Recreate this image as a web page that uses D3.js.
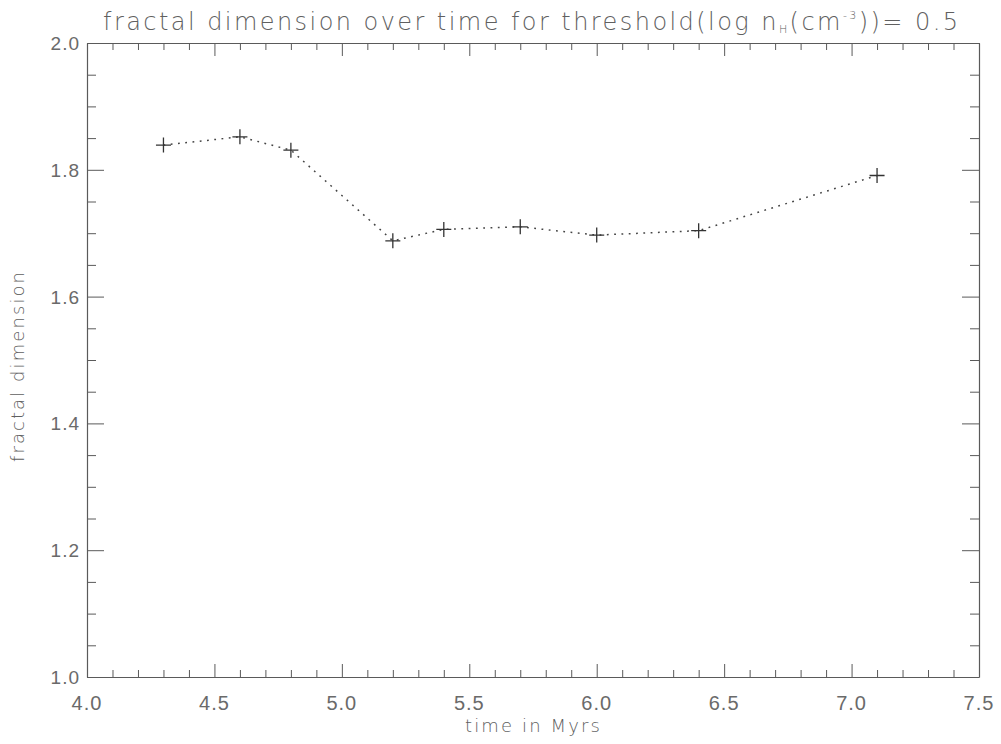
<!DOCTYPE html>
<html>
<head>
<meta charset="utf-8">
<script src="https://cdn.jsdelivr.net/npm/d3@7"></script>
<style>
  html, body { margin: 0; padding: 0; background: #fff; }
  svg { display: block; }
  text { font-family: "Liberation Sans", "DejaVu Sans", sans-serif; fill: #6a6a6a; }
  text.wide { font-family: "DejaVu Sans", sans-serif; font-weight: 200; fill: #606060; }
</style>
</head>
<body>
<svg id="chart" width="1001" height="744"></svg>
<script>
// Fractal dimension measured at each snapshot time (Myr)
const times = [4.3, 4.6, 4.8, 5.2, 5.4, 5.7, 6.0, 6.4, 7.1];
const fractalDim = [1.839, 1.852, 1.831, 1.688, 1.706, 1.710, 1.697, 1.704, 1.791];

const xTicks = [4.0, 4.5, 5.0, 5.5, 6.0, 6.5, 7.0, 7.5];
const yTicks = [1.0, 1.2, 1.4, 1.6, 1.8, 2.0];

const plotLeft = 87, plotRight = 979, plotTop = 43, plotBottom = 677;

const svg = d3.select("#chart");

const x = d3.scaleLinear().domain([4.0, 7.5]).range([plotLeft, plotRight]);
const y = d3.scaleLinear().domain([1.0, 2.0]).range([plotBottom, plotTop]);

const axisColor = "#5a5a5a";

// Spread a text's glyphs so that its total advance equals the given width
function spreadTo(sel, width) {
  const node = sel.node();
  const n = node.textContent.length;
  const w = node.getComputedTextLength();
  sel.attr("letter-spacing", (width - w) / Math.max(1, n - 1));
}

// Minor ticks every 0.1 on x, 0.05 on y; major ticks at labelled values
const xMinor = d3.range(0, 36).map(i => 4.0 + i * 0.1);
const yMinor = d3.range(0, 21).map(i => 1.0 + i * 0.05);
const isMajorX = v => xTicks.some(t => Math.abs(t - v) < 1e-6);
const isMajorY = v => yTicks.some(t => Math.abs(t - v) < 1e-6);

const g = svg.append("g");

// Bottom and top axes, ticks pointing inward
function drawXAxis(yPos, dir) {
  const ax = d3.axisBottom(x).tickValues(xMinor)
    .tickSize(0).tickSizeOuter(0).tickFormat("");
  const a = g.append("g").attr("transform", `translate(0,${yPos})`).call(ax);
  a.select(".domain").attr("stroke", axisColor).attr("stroke-width", 1.2);
  a.selectAll(".tick line")
    .attr("stroke", axisColor)
    .attr("y2", d => dir * (isMajorX(d) ? 13 : 7));
}
drawXAxis(plotBottom, -1);
drawXAxis(plotTop, 1);

function drawYAxis(xPos, dir) {
  const ax = d3.axisLeft(y).tickValues(yMinor)
    .tickSize(0).tickSizeOuter(0).tickFormat("");
  const a = g.append("g").attr("transform", `translate(${xPos},0)`).call(ax);
  a.select(".domain").attr("stroke", axisColor).attr("stroke-width", 1.2);
  a.selectAll(".tick line")
    .attr("stroke", axisColor)
    .attr("x2", d => dir * (isMajorY(d) ? 17 : 9));
}
drawYAxis(plotLeft, 1);
drawYAxis(plotRight, -1);

// Tick labels
g.selectAll(".xlab").data(xTicks).enter().append("text")
  .attr("x", d => x(d)).attr("y", 710)
  .attr("text-anchor", "middle")
  .attr("font-size", 20)
  .attr("letter-spacing", 1)
  .text(d => d.toFixed(1));

g.selectAll(".ylab").data(yTicks).enter().append("text")
  .attr("x", 80).attr("y", d => y(d) + 7)
  .attr("text-anchor", "end")
  .attr("font-size", 19)
  .attr("letter-spacing", 1)
  .text(d => d.toFixed(1));

// Axis titles
const xTitle = svg.append("text")
  .attr("class", "wide")
  .attr("x", 465).attr("y", 732)
  .attr("font-size", 18)
  .text("time in Myrs");
spreadTo(xTitle, 135);

const yTitle = svg.append("text")
  .attr("class", "wide")
  .attr("transform", "translate(24,462) rotate(-90)")
  .attr("font-size", 18)
  .text("fractal dimension");
spreadTo(yTitle, 190);

// Title with subscript/superscript
const title = svg.append("text")
  .attr("class", "wide")
  .attr("x", 103).attr("y", 30)
  .attr("font-size", 24);
title.append("tspan").text("fractal dimension over time for threshold(log n");
title.append("tspan").attr("font-size", 11).attr("dy", 3).text("H");
title.append("tspan").attr("dy", -3).text("(cm");
title.append("tspan").attr("font-size", 11).attr("dy", -11).text("-3");
title.append("tspan").attr("dy", 11).text("))= 0.5");
spreadTo(title, 855);

// Dotted connecting line
const pts = times.map((t, i) => [t, fractalDim[i]]);
const line = d3.line().x(d => x(d[0])).y(d => y(d[1]));
svg.append("path")
  .datum(pts)
  .attr("d", line)
  .attr("fill", "none")
  .attr("stroke", "#444")
  .attr("stroke-width", 1.5)
  .attr("stroke-dasharray", "1.8,5.5");

// Plus markers
const s = 7.5;
svg.selectAll(".pt").data(pts).enter().append("path")
  .attr("d", d => {
    const cx = x(d[0]), cy = y(d[1]);
    return `M${cx - s},${cy}H${cx + s}M${cx},${cy - s}V${cy + s}`;
  })
  .attr("stroke", "#333")
  .attr("stroke-width", 1.3)
  .attr("fill", "none");
</script>
</body>
</html>
